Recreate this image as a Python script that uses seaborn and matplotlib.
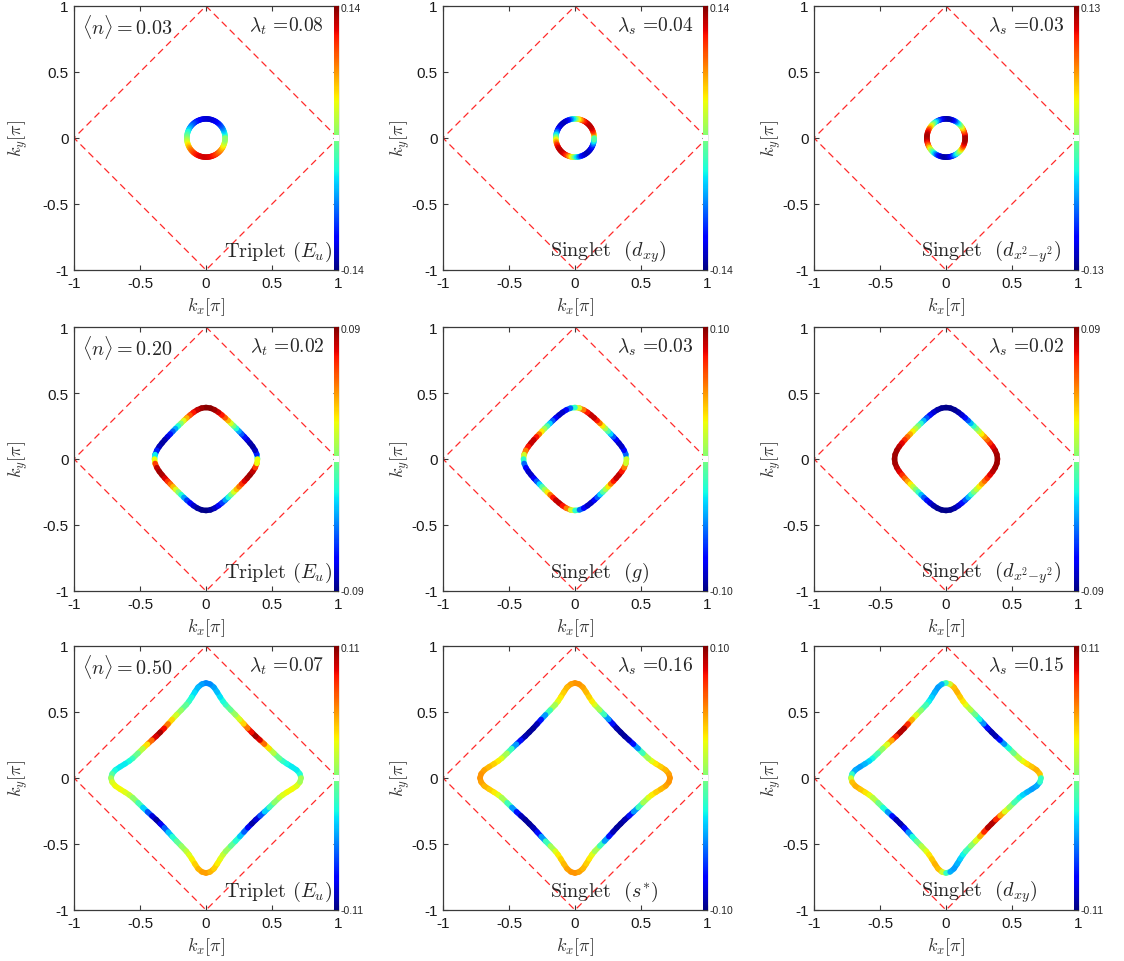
import matplotlib
matplotlib.use("Agg")
import matplotlib.pyplot as plt
import numpy as np
import pandas as pd
import seaborn as sns
from matplotlib.collections import LineCollection
from matplotlib.colors import Normalize
from matplotlib.cm import ScalarMappable

# Sampling angle on the Fermi surface (degrees, counter-clockwise from +k_x)
THETA_DEG = list(range(0, 360, 5))
# finer sampling near the sharp tips of the <n>=0.50 surface
THETA_N050_DEG = [0, 2.5, 5, 7.5, 10, 12.5, 15, 20, 25, 30, 35, 40, 45, 50, 55, 60, 65, 70, 75, 77.5, 80, 82.5, 85, 87.5, 90,
                  92.5, 95, 97.5, 100, 102.5, 105, 110, 115, 120, 125, 130, 135, 140, 145, 150, 155, 160, 165, 167.5, 170, 172.5, 175, 177.5, 180,
                  182.5, 185, 187.5, 190, 192.5, 195, 200, 205, 210, 215, 220, 225, 230, 235, 240, 245, 250, 255, 257.5, 260, 262.5, 265, 267.5, 270,
                  272.5, 275, 277.5, 280, 282.5, 285, 290, 295, 300, 305, 310, 315, 320, 325, 330, 335, 340, 345, 347.5, 350, 352.5, 355, 357.5]

# Fermi momentum |k_F|(theta) in units of pi, one list per filling
KF_N003 = [0.145, 0.145, 0.145, 0.145, 0.145, 0.145, 0.145, 0.145, 0.145, 0.145, 0.145, 0.145, 0.145, 0.145, 0.145, 0.145, 0.145, 0.145, 0.145,
           0.145, 0.145, 0.145, 0.145, 0.145, 0.145, 0.145, 0.145, 0.145, 0.145, 0.145, 0.145, 0.145, 0.145, 0.145, 0.145, 0.145, 0.145,
           0.145, 0.145, 0.145, 0.145, 0.145, 0.145, 0.145, 0.145, 0.145, 0.145, 0.145, 0.145, 0.145, 0.145, 0.145, 0.145, 0.145, 0.145,
           0.145, 0.145, 0.145, 0.145, 0.145, 0.145, 0.145, 0.145, 0.145, 0.145, 0.145, 0.145, 0.145, 0.145, 0.145, 0.145, 0.145]
KF_N020 = [0.390, 0.387, 0.378, 0.366, 0.354, 0.344, 0.336, 0.330, 0.327, 0.326, 0.327, 0.330, 0.336, 0.344, 0.354, 0.366, 0.378, 0.387, 0.390,
           0.387, 0.378, 0.366, 0.354, 0.344, 0.336, 0.330, 0.327, 0.326, 0.327, 0.330, 0.336, 0.344, 0.354, 0.366, 0.378, 0.387, 0.390,
           0.387, 0.378, 0.366, 0.354, 0.344, 0.336, 0.330, 0.327, 0.326, 0.327, 0.330, 0.336, 0.344, 0.354, 0.366, 0.378, 0.387, 0.390,
           0.387, 0.378, 0.366, 0.354, 0.344, 0.336, 0.330, 0.327, 0.326, 0.327, 0.330, 0.336, 0.344, 0.354, 0.366, 0.378, 0.387]
KF_N050 = [0.720, 0.712, 0.690, 0.655, 0.622, 0.595, 0.575, 0.548, 0.528, 0.512, 0.500, 0.492, 0.490, 0.492, 0.500, 0.512, 0.528, 0.548, 0.575, 0.595, 0.622, 0.655, 0.690, 0.712, 0.720,
           0.712, 0.690, 0.655, 0.622, 0.595, 0.575, 0.548, 0.528, 0.512, 0.500, 0.492, 0.490, 0.492, 0.500, 0.512, 0.528, 0.548, 0.575, 0.595, 0.622, 0.655, 0.690, 0.712, 0.720,
           0.712, 0.690, 0.655, 0.622, 0.595, 0.575, 0.548, 0.528, 0.512, 0.500, 0.492, 0.490, 0.492, 0.500, 0.512, 0.528, 0.548, 0.575, 0.595, 0.622, 0.655, 0.690, 0.712, 0.720,
           0.712, 0.690, 0.655, 0.622, 0.595, 0.575, 0.548, 0.528, 0.512, 0.500, 0.492, 0.490, 0.492, 0.500, 0.512, 0.528, 0.548, 0.575, 0.595, 0.622, 0.655, 0.690, 0.712]

# Gap function along the Fermi surface, one list per panel
GAP_N003_EU = [0, -0.01, -0.02, -0.03, -0.04, -0.05, -0.06, -0.07, -0.077, -0.085, -0.092, -0.098, -0.104, -0.109, -0.113, -0.116, -0.118, -0.12, -0.12,
               -0.12, -0.118, -0.116, -0.113, -0.109, -0.104, -0.098, -0.092, -0.085, -0.077, -0.07, -0.06, -0.05, -0.04, -0.03, -0.02, -0.01, 0,
               0.01, 0.02, 0.03, 0.04, 0.05, 0.06, 0.07, 0.077, 0.085, 0.092, 0.098, 0.104, 0.109, 0.113, 0.116, 0.118, 0.12, 0.12,
               0.12, 0.118, 0.116, 0.113, 0.109, 0.104, 0.098, 0.092, 0.085, 0.077, 0.07, 0.06, 0.05, 0.04, 0.03, 0.02, 0.01]
GAP_N003_DXY = [0, 0.03, 0.05, 0.07, 0.09, 0.105, 0.115, 0.12, 0.125, 0.125, 0.125, 0.12, 0.115, 0.105, 0.09, 0.07, 0.05, 0.03, 0,
                -0.03, -0.05, -0.07, -0.09, -0.105, -0.115, -0.12, -0.125, -0.125, -0.125, -0.12, -0.115, -0.105, -0.09, -0.07, -0.05, -0.03, 0,
                0.03, 0.05, 0.07, 0.09, 0.105, 0.115, 0.12, 0.125, 0.125, 0.125, 0.12, 0.115, 0.105, 0.09, 0.07, 0.05, 0.03, 0,
                -0.03, -0.05, -0.07, -0.09, -0.105, -0.115, -0.12, -0.125, -0.125, -0.125, -0.12, -0.115, -0.105, -0.09, -0.07, -0.05, -0.03]
GAP_N003_DX2Y2 = [0.12, 0.12, 0.115, 0.105, 0.095, 0.08, 0.06, 0.04, 0.02, 0, -0.02, -0.04, -0.06, -0.08, -0.095, -0.105, -0.115, -0.12, -0.12,
                  -0.12, -0.115, -0.105, -0.095, -0.08, -0.06, -0.04, -0.02, 0, 0.02, 0.04, 0.06, 0.08, 0.095, 0.105, 0.115, 0.12, 0.12,
                  0.12, 0.115, 0.105, 0.095, 0.08, 0.06, 0.04, 0.02, 0, -0.02, -0.04, -0.06, -0.08, -0.095, -0.105, -0.115, -0.12, -0.12,
                  -0.12, -0.115, -0.105, -0.095, -0.08, -0.06, -0.04, -0.02, 0, 0.02, 0.04, 0.06, 0.08, 0.095, 0.105, 0.115, 0.12]

GAP_N020_EU = [0, -0.05, -0.075, -0.085, -0.085, -0.08, -0.07, -0.058, -0.045, -0.03, -0.01, 0.01, 0.03, 0.05, 0.065, 0.075, 0.082, 0.087, 0.09,
               0.087, 0.082, 0.075, 0.065, 0.05, 0.03, 0.01, -0.01, -0.03, -0.045, -0.058, -0.07, -0.08, -0.085, -0.085, -0.075, -0.05, 0,
               0.05, 0.075, 0.085, 0.085, 0.08, 0.07, 0.058, 0.045, 0.03, 0.01, -0.01, -0.03, -0.05, -0.065, -0.075, -0.082, -0.087, -0.09,
               -0.087, -0.082, -0.075, -0.065, -0.05, -0.03, -0.01, 0.01, 0.03, 0.045, 0.058, 0.07, 0.08, 0.085, 0.085, 0.075, 0.05]
GAP_N020_G = [0, -0.04, -0.07, -0.085, -0.09, -0.085, -0.07, -0.045, -0.02, 0, 0.02, 0.045, 0.07, 0.085, 0.09, 0.085, 0.07, 0.04, 0,
              -0.04, -0.07, -0.085, -0.09, -0.085, -0.07, -0.045, -0.02, 0, 0.02, 0.045, 0.07, 0.085, 0.09, 0.085, 0.07, 0.04, 0,
              -0.04, -0.07, -0.085, -0.09, -0.085, -0.07, -0.045, -0.02, 0, 0.02, 0.045, 0.07, 0.085, 0.09, 0.085, 0.07, 0.04, 0,
              -0.04, -0.07, -0.085, -0.09, -0.085, -0.07, -0.045, -0.02, 0, 0.02, 0.045, 0.07, 0.085, 0.09, 0.085, 0.07, 0.04]
GAP_N020_DX2Y2 = [0.085, 0.085, 0.083, 0.078, 0.07, 0.06, 0.048, 0.035, 0.02, 0.008, -0.008, -0.025, -0.045, -0.06, -0.072, -0.08, -0.085, -0.088, -0.088,
                  -0.088, -0.085, -0.08, -0.072, -0.06, -0.045, -0.025, -0.008, 0.008, 0.02, 0.035, 0.048, 0.06, 0.07, 0.078, 0.083, 0.085, 0.085,
                  0.085, 0.083, 0.078, 0.07, 0.06, 0.048, 0.035, 0.02, 0.008, -0.008, -0.025, -0.045, -0.06, -0.072, -0.08, -0.085, -0.088, -0.088,
                  -0.088, -0.085, -0.08, -0.072, -0.06, -0.045, -0.025, -0.008, 0.008, 0.02, 0.035, 0.048, 0.06, 0.07, 0.078, 0.083, 0.085]

GAP_N050_EU = [0, -0.02, -0.03, -0.032, -0.03, -0.022, -0.015, 0.005, 0.025, 0.05, 0.08, 0.105, 0.1, 0.075, 0.05, 0.03, 0.015, 0, -0.015, -0.022, -0.03, -0.038, -0.045, -0.05, -0.055,
               -0.05, -0.045, -0.038, -0.03, -0.022, -0.015, 0, 0.015, 0.03, 0.05, 0.075, 0.1, 0.105, 0.08, 0.05, 0.025, 0.005, -0.015, -0.022, -0.03, -0.032, -0.03, -0.02, 0,
               0.02, 0.03, 0.032, 0.03, 0.022, 0.015, -0.005, -0.025, -0.05, -0.08, -0.105, -0.1, -0.075, -0.05, -0.03, -0.015, 0, 0.015, 0.022, 0.03, 0.038, 0.045, 0.05, 0.055,
               0.05, 0.045, 0.038, 0.03, 0.022, 0.015, 0, -0.015, -0.03, -0.05, -0.075, -0.1, -0.105, -0.08, -0.05, -0.025, -0.005, 0.015, 0.022, 0.03, 0.032, 0.03, 0.02]
GAP_N050_SSTAR = [0.05, 0.05, 0.045, 0.04, 0.035, 0.028, 0.02, 0, -0.03, -0.06, -0.085, -0.095, -0.095, -0.095, -0.085, -0.06, -0.03, 0, 0.02, 0.028, 0.035, 0.04, 0.045, 0.05, 0.05,
                  0.05, 0.045, 0.04, 0.035, 0.028, 0.02, 0, -0.03, -0.06, -0.085, -0.095, -0.095, -0.095, -0.085, -0.06, -0.03, 0, 0.02, 0.028, 0.035, 0.04, 0.045, 0.05, 0.05,
                  0.05, 0.045, 0.04, 0.035, 0.028, 0.02, 0, -0.03, -0.06, -0.085, -0.095, -0.095, -0.095, -0.085, -0.06, -0.03, 0, 0.02, 0.028, 0.035, 0.04, 0.045, 0.05, 0.05,
                  0.05, 0.045, 0.04, 0.035, 0.028, 0.02, 0, -0.03, -0.06, -0.085, -0.095, -0.095, -0.095, -0.085, -0.06, -0.03, 0, 0.02, 0.028, 0.035, 0.04, 0.045, 0.05]
GAP_N050_DXY = [0, 0.04, 0.05, 0.047, 0.04, 0.033, 0.025, 0.005, -0.015, -0.035, -0.065, -0.095, -0.105, -0.095, -0.065, -0.035, -0.015, 0.005, 0.025, 0.033, 0.04, 0.047, 0.05, 0.04, 0,
                -0.04, -0.05, -0.047, -0.04, -0.033, -0.025, -0.005, 0.015, 0.035, 0.065, 0.095, 0.105, 0.095, 0.065, 0.035, 0.015, -0.005, -0.025, -0.033, -0.04, -0.047, -0.05, -0.04, 0,
                0.04, 0.05, 0.047, 0.04, 0.033, 0.025, 0.005, -0.015, -0.035, -0.065, -0.095, -0.105, -0.095, -0.065, -0.035, -0.015, 0.005, 0.025, 0.033, 0.04, 0.047, 0.05, 0.04, 0,
                -0.04, -0.05, -0.047, -0.04, -0.033, -0.025, -0.005, 0.015, 0.035, 0.065, 0.095, 0.105, 0.095, 0.065, 0.035, 0.015, -0.005, -0.025, -0.033, -0.04, -0.047, -0.05, -0.04]

FILLINGS = ["0.03", "0.20", "0.50"]
THETA_ROWS = [THETA_DEG, THETA_DEG, THETA_N050_DEG]
KF_ROWS = [KF_N003, KF_N020, KF_N050]
GAP_PANELS = [[GAP_N003_EU, GAP_N003_DXY, GAP_N003_DX2Y2],
              [GAP_N020_EU, GAP_N020_G, GAP_N020_DX2Y2],
              [GAP_N050_EU, GAP_N050_SSTAR, GAP_N050_DXY]]
CBAR_LIMITS = [[0.14, 0.14, 0.13], [0.09, 0.10, 0.09], [0.11, 0.10, 0.11]]
LAMBDA_KIND = ["t", "s", "s"]
LAMBDA_VALUES = [[0.08, 0.04, 0.03], [0.02, 0.03, 0.02], [0.07, 0.16, 0.15]]
PAIRING_LABELS = [[r"Triplet $(E_u)$", r"Singlet  $(d_{xy})$", r"Singlet  $(d_{x^2{-}y^2})$"],
                  [r"Triplet $(E_u)$", r"Singlet  $(g)$", r"Singlet  $(d_{x^2{-}y^2})$"],
                  [r"Triplet $(E_u)$", r"Singlet  $(s^{*})$", r"Singlet  $(d_{xy})$"]]

# Brillouin-zone boundary of the half-filled band
BZ_KX = [1, 0, -1, 0, 1]
BZ_KY = [0, 1, 0, -1, 0]

TICKS = [-1, -0.5, 0, 0.5, 1]
TICK_LABELS = ["-1", "-0.5", "0", "0.5", "1"]

sns.set_theme(style="ticks")
plt.rcParams["font.family"] = ["Liberation Sans", "DejaVu Sans"]
plt.rcParams["mathtext.fontset"] = "cm"
plt.rcParams["axes.unicode_minus"] = False

W, H = 1124, 962
fig = plt.figure(figsize=(W / 100, H / 100), dpi=100)

AX_LEFT = [74, 443, 814]
AX_TOP = [7, 328, 647]
AX_SIZE = 264
YLABEL_OFFSET = [-56, -43, -43]
SPINE = "#3a3a3a"
SERIF = "cmr10"

for i in range(3):
    for j in range(3):
        left, top = AX_LEFT[j], AX_TOP[i]
        ax = fig.add_axes([left / W, (H - top - AX_SIZE) / H, AX_SIZE / W, AX_SIZE / H])

        # dashed zone boundary
        bz = pd.DataFrame({"kx": BZ_KX, "ky": BZ_KY})
        sns.lineplot(data=bz, x="kx", y="ky", sort=False, estimator=None,
                     color="#ff2a2a", lw=0.9, linestyle=(0, (5.5, 3.5)), ax=ax)

        # Fermi surface coloured by the gap
        vmax = CBAR_LIMITS[i][j]
        norm = Normalize(-vmax, vmax)
        theta = np.deg2rad(np.asarray(THETA_ROWS[i], dtype=float))
        r = np.asarray(KF_ROWS[i], dtype=float)
        pts = np.column_stack([r * np.cos(theta), r * np.sin(theta)])
        pts = np.vstack([pts, pts[:1]])
        g = np.asarray(GAP_PANELS[i][j], dtype=float)
        g = np.append(g, g[0])
        segs = np.stack([pts[:-1], pts[1:]], axis=1)
        lc = LineCollection(segs, cmap="jet", norm=norm, linewidths=4.0,
                            capstyle="round", joinstyle="round", zorder=3)
        lc.set_array(0.5 * (g[:-1] + g[1:]))
        ax.add_collection(lc)

        ax.set_xlim(-1, 1)
        ax.set_ylim(-1, 1)
        ax.set_xticks(TICKS)
        ax.set_yticks(TICKS)
        ax.set_xticklabels(TICK_LABELS)
        ax.set_yticklabels(TICK_LABELS)
        ax.tick_params(direction="in", length=3.5, width=0.8, top=True, right=True,
                       labelsize=11, pad=4, color=SPINE, labelcolor="#1a1a1a")
        for sp in ax.spines.values():
            sp.set_color(SPINE)
            sp.set_linewidth(0.9)
        ax.set_xlabel(r"$k_x[\pi]$", fontsize=13, color="#333333")
        ax.set_ylabel(r"$k_y[\pi]$", fontsize=13, color="#333333", va="center")
        ax.xaxis.set_label_coords(0.5, -0.097)
        ax.yaxis.set_label_coords(YLABEL_OFFSET[j] / AX_SIZE, 0.5)

        if j == 0:
            ax.text(0.03, 0.925, r"$\langle n\rangle = %s$" % FILLINGS[i],
                    transform=ax.transAxes, fontsize=14.5, ha="left", va="center")
        ax.text(0.948, 0.925, r"$\lambda_%s$ =%.2f" % (LAMBDA_KIND[j], LAMBDA_VALUES[i][j]),
                transform=ax.transAxes, fontsize=14, ha="right", va="center", family=SERIF)
        if j == 0:
            ax.text(0.977, 0.072, PAIRING_LABELS[i][j], transform=ax.transAxes,
                    fontsize=14.5, ha="right", va="center", family=SERIF)
        else:
            ax.text(0.405, 0.072, PAIRING_LABELS[i][j], transform=ax.transAxes,
                    fontsize=14.5, ha="left", va="center", family=SERIF)

        # thin colour bar along the right edge, with the small white break at zero
        right = left + AX_SIZE
        cax = fig.add_axes([(right - 4) / W, (H - top - AX_SIZE) / H, 5 / W, AX_SIZE / H])
        cb = fig.colorbar(ScalarMappable(norm=norm, cmap="jet"), cax=cax)
        cb.outline.set_visible(False)
        cb.set_ticks([])
        cax.axhspan(-0.022 * vmax, 0.022 * vmax, color="white", lw=0)
        fig.text((right + 3) / W, (H - top - 2) / H, "%.2f" % vmax,
                 fontsize=7.5, ha="left", va="center")
        fig.text((right + 3) / W, (H - top - AX_SIZE) / H, "%.2f" % (-vmax),
                 fontsize=7.5, ha="left", va="center")

fig.savefig("out.png", dpi=100)
